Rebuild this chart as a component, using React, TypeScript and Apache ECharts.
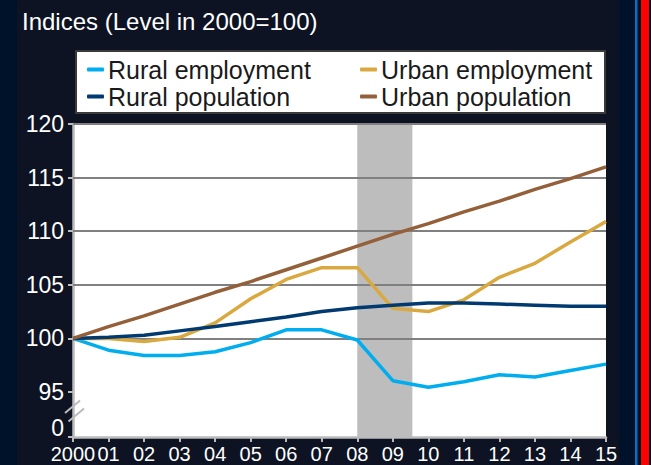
import React, { useEffect, useRef } from "react";
import * as echarts from "echarts";

const years = [2000, 2001, 2002, 2003, 2004, 2005, 2006, 2007, 2008, 2009, 2010, 2011, 2012, 2013, 2014, 2015];
const ruralEmployment = [100, 98.9, 98.4, 98.4, 98.75, 99.6, 100.8, 100.8, 99.85, 96.05, 95.45, 95.95, 96.6, 96.4, 97.0, 97.6];
const urbanEmployment = [100, 100.0, 99.7, 100.1, 101.45, 103.7, 105.5, 106.6, 106.6, 102.8, 102.5, 103.6, 105.7, 107.0, 109.0, 110.9];
const ruralPopulation = [100, 100.1, 100.3, 100.7, 101.1, 101.55, 102.0, 102.5, 102.85, 103.1, 103.3, 103.3, 103.2, 103.1, 103.0, 103.0];
const urbanPopulation = [100, 101.1, 102.1, 103.2, 104.3, 105.3, 106.4, 107.5, 108.6, 109.7, 110.7, 111.8, 112.8, 113.9, 114.9, 116.0];
const yTickValues = [90.8, 95, 100, 105, 110, 115, 120];
const yLabelValues = [91.6, 95, 100, 105, 110, 115, 120];
const gridValues = [100, 105, 110, 115, 120];
const recession = [2008, 2009.55];

const FONT = "'Liberation Sans', Arial, sans-serif";
const NARROW = "'Liberation Sans Narrow', 'Arial Narrow', 'Liberation Sans', Arial, sans-serif";

export default function App() {
  const ref = useRef<HTMLDivElement>(null);
  useEffect(() => {
    if (!ref.current) return;
    const chart = echarts.init(ref.current, undefined, { renderer: "svg" });
    const pair = (arr: number[]) => years.map((y, i) => [y, arr[i]]);
    const lineSeries = (name: string, arr: number[], color: string) => ({
      name,
      type: "line",
      data: pair(arr),
      symbol: "none",
      z: 5,
      lineStyle: { color, width: 3.5 },
      itemStyle: { color },
    });
    const legendBase = {
      orient: "vertical",
      top: 52,
      itemGap: 2,
      itemWidth: 17,
      itemHeight: 4,
      icon: "roundRect",
      textStyle: { color: "#1A1A1A", fontSize: 25, fontFamily: FONT, padding: [0, 0, 0, -1] },
      selectedMode: false,
    };
    chart.setOption({
      animation: false,
      backgroundColor: "#0D1322",
      graphic: [
        { type: "rect", shape: { x: 0, y: 0, width: 17, height: 465 }, style: { fill: "#00112A" }, silent: true },
        { type: "rect", shape: { x: 619, y: 0, width: 32, height: 465 }, style: { fill: "#00112A" }, silent: true },
        { type: "rect", shape: { x: 635, y: 0, width: 2.5, height: 465 }, style: { fill: "#0B72B9" }, silent: true },
        { type: "rect", shape: { x: 641, y: 0, width: 8, height: 465 }, style: { fill: "#FF0000" }, silent: true },
        {
          type: "rect",
          shape: { x: 76, y: 51, width: 529, height: 62 },
          style: { fill: "#FFFFFF", stroke: "#3A3A3A", lineWidth: 2 },
          silent: true,
        },
        {
          type: "text",
          x: 22,
          y: 9,
          style: { text: "Indices (Level in 2000=100)", fill: "#FFFFFF", font: `24px ${FONT}` },
          silent: true,
        },
        { type: "line", shape: { x1: 65, y1: 413, x2: 80, y2: 400.5 }, style: { stroke: "#BBBBBB", lineWidth: 2 }, silent: true, z: 10 },
        { type: "line", shape: { x1: 68.5, y1: 421.5, x2: 84, y2: 408.5 }, style: { stroke: "#BBBBBB", lineWidth: 2 }, silent: true, z: 10 },
      ],
      legend: [
        { ...legendBase, data: ["Rural employment", "Rural population"], left: 82 },
        { ...legendBase, data: ["Urban employment", "Urban population"], left: 355 },
      ],
      grid: { left: 73, right: 45, top: 124, bottom: 28, show: true, backgroundColor: "#FFFFFF", borderWidth: 0 },
      xAxis: {
        type: "value",
        min: 2000,
        max: 2015,
        interval: 1,
        axisLine: { show: true, lineStyle: { color: "#BBBBBB", width: 2.5 } },
        axisTick: { show: true, length: 5, lineStyle: { color: "#BBBBBB", width: 2 } },
        axisLabel: {
          color: "#FFFFFF",
          fontSize: 20,
          fontFamily: NARROW,
          margin: 7,
          showMinLabel: true,
          showMaxLabel: true,
          hideOverlap: false,
          formatter: (v: number) => (v === 2000 ? "2000" : String(v - 2000).padStart(2, "0")),
        },
        splitLine: { show: false },
      },
      yAxis: {
        type: "value",
        min: 90.8,
        max: 120,
        axisLine: { show: true, lineStyle: { color: "#BBBBBB", width: 2.5 } },
        axisTick: { show: true, length: 5, customValues: yTickValues, lineStyle: { color: "#BBBBBB", width: 2 } },
        axisLabel: {
          color: "#FFFFFF",
          fontSize: 23,
          lineHeight: 18,
          fontFamily: FONT,
          margin: 9,
          customValues: yLabelValues,
          formatter: (v: number) => (v < 93 ? "0" : String(Math.round(v))),
        },
        splitLine: { show: false },
      },
      series: [
        {
          name: "bg",
          type: "line",
          data: [[2000, 100]],
          symbol: "none",
          silent: true,
          z: 1,
          lineStyle: { opacity: 0 },
          markArea: {
            silent: true,
            itemStyle: { color: "#BDBDBD" },
            data: [[{ xAxis: recession[0] }, { xAxis: recession[1] }]],
          },
          markLine: {
            silent: true,
            symbol: "none",
            label: { show: false },
            lineStyle: { color: "#808080", width: 2, type: "solid" },
            data: gridValues.map((v) => ({ yAxis: v })),
          },
        },
        lineSeries("Rural employment", ruralEmployment, "#00AEEF"),
        lineSeries("Urban employment", urbanEmployment, "#D9A93F"),
        lineSeries("Rural population", ruralPopulation, "#003A70"),
        lineSeries("Urban population", urbanPopulation, "#93603A"),
      ],
    });
    return () => chart.dispose();
  }, []);
  return <div ref={ref} style={{ position: "fixed", left: 0, top: 0, width: 651, height: 465 }} />;
}
